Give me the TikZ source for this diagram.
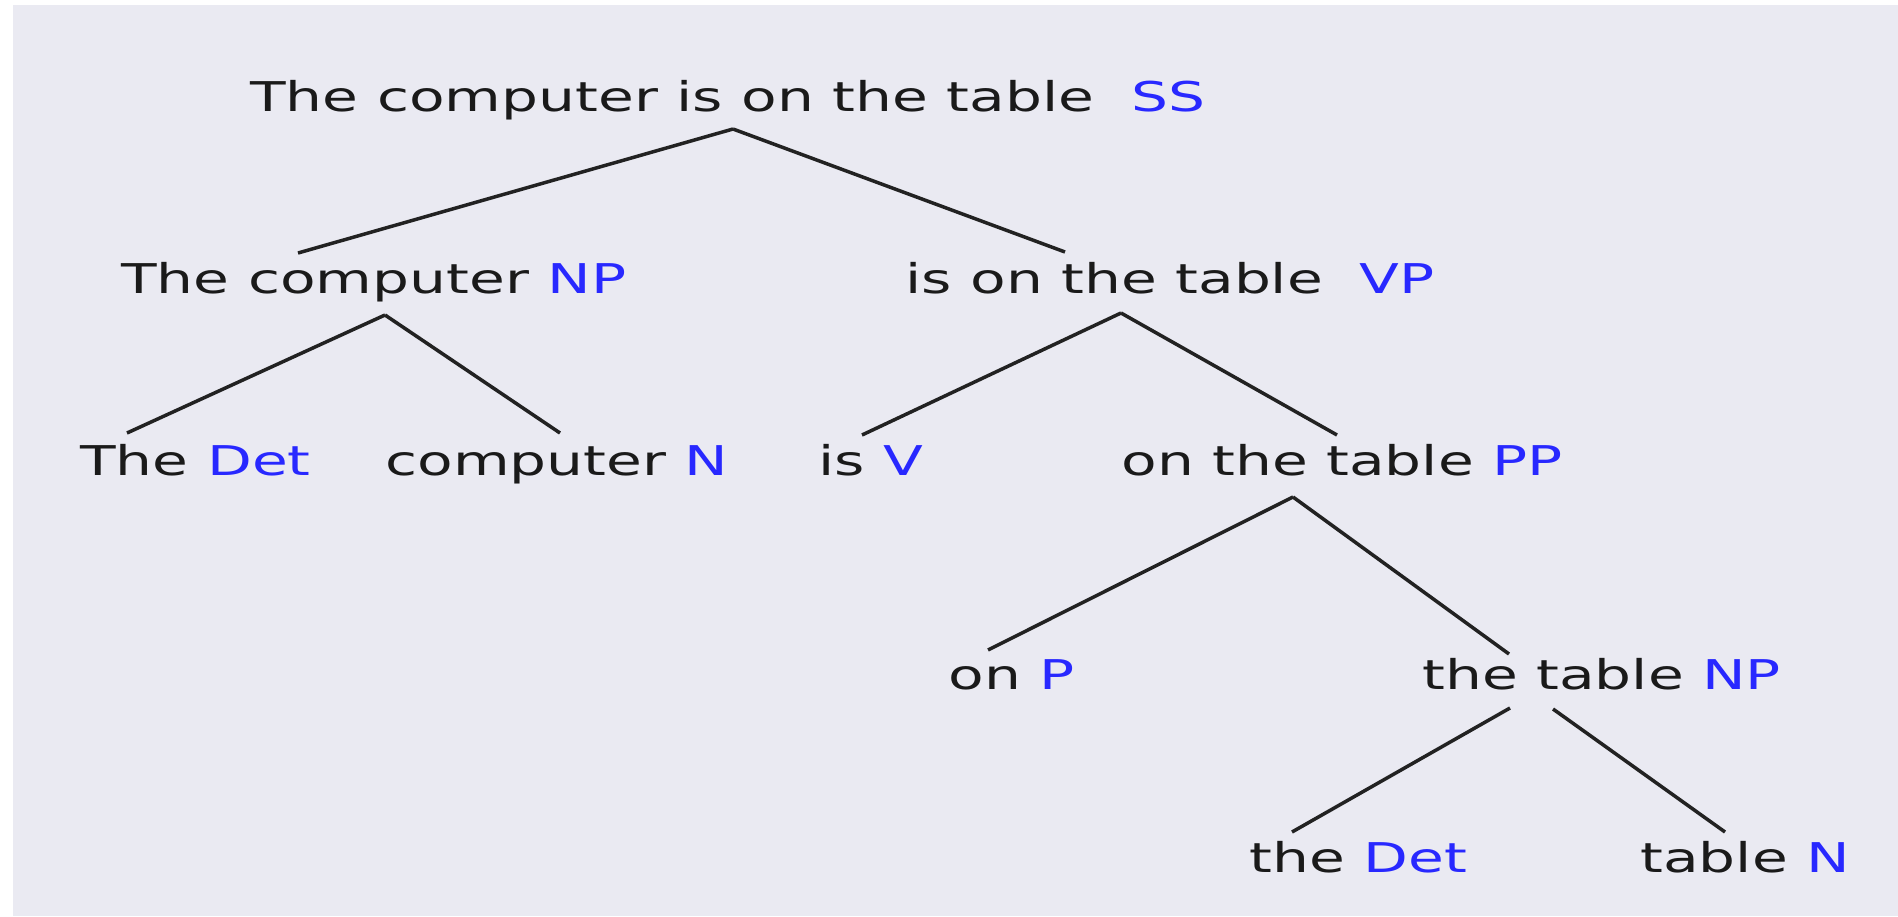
\documentclass[tikz,border=0pt]{standalone}
\usepackage{fontspec}
\newfontfamily\dvfont[FakeStretch=1.42]{DejaVu Sans}
\definecolor{bgcol}{HTML}{EAEAF2}
\definecolor{labcol}{RGB}{40,40,255}
\definecolor{inkcol}{HTML}{1A1A1A}
\definecolor{edgecol}{HTML}{222222}
\newcommand{\tlab}[1]{\textcolor{labcol}{#1}}
\begin{document}
\begin{tikzpicture}[x=0.5pt,y=-0.5pt,
  txt/.style={anchor=base west, inner sep=0pt, text=inkcol, font=\dvfont\fontsize{20.5pt}{24pt}\selectfont},
  edgeline/.style={draw=edgecol, line width=1.75pt}]
\useasboundingbox (0,0) rectangle (1898,916);
\fill[bgcol] (13,5) rectangle (1898,916);

% nodes
\node[txt] (ss)   at (250,111)  {The computer is on the table\ \ \tlab{SS}};
\node[txt] (np1)  at (121,293)  {The computer \tlab{NP}};
\node[txt] (vp)   at (905,293)  {is on the table\ \ \tlab{VP}};
\node[txt] (det1) at (80,475)   {The \tlab{Det}};
\node[txt] (n1)   at (385,475)  {computer \tlab{N}};
\node[txt] (v)    at (818,475)  {is \tlab{V}};
\node[txt] (pp)   at (1121,475) {on the table \tlab{PP}};
\node[txt] (p)    at (948,689)  {on \tlab{P}};
\node[txt] (np2)  at (1422,689) {the table \tlab{NP}};
\node[txt] (det2) at (1249,872) {the \tlab{Det}};
\node[txt] (n2)   at (1640,872) {table \tlab{N}};

% connector end points
\coordinate (ss-b)   at (733,129);
\coordinate (np1-t)  at (298,253);
\coordinate (vp-t)   at (1065,252);
\coordinate (np1-b)  at (385,315);
\coordinate (det1-t) at (127,433);
\coordinate (n1-t)   at (560,433);
\coordinate (vp-b)   at (1121,313);
\coordinate (v-t)    at (862,435);
\coordinate (pp-t)   at (1337,435);
\coordinate (pp-b)   at (1293,497);
\coordinate (p-t)    at (988,650);
\coordinate (np2-t)  at (1509,654);
\coordinate (np2-bl) at (1510,708);
\coordinate (np2-br) at (1553,709);
\coordinate (det2-t) at (1292,832);
\coordinate (n2-t)   at (1725,832);

% connectors
\draw[edgeline] (ss-b) -- (np1-t);
\draw[edgeline] (ss-b) -- (vp-t);
\draw[edgeline] (np1-b) -- (det1-t);
\draw[edgeline] (np1-b) -- (n1-t);
\draw[edgeline] (vp-b) -- (v-t);
\draw[edgeline] (vp-b) -- (pp-t);
\draw[edgeline] (pp-b) -- (p-t);
\draw[edgeline] (pp-b) -- (np2-t);
\draw[edgeline] (np2-bl) -- (det2-t);
\draw[edgeline] (np2-br) -- (n2-t);
\end{tikzpicture}
\end{document}
